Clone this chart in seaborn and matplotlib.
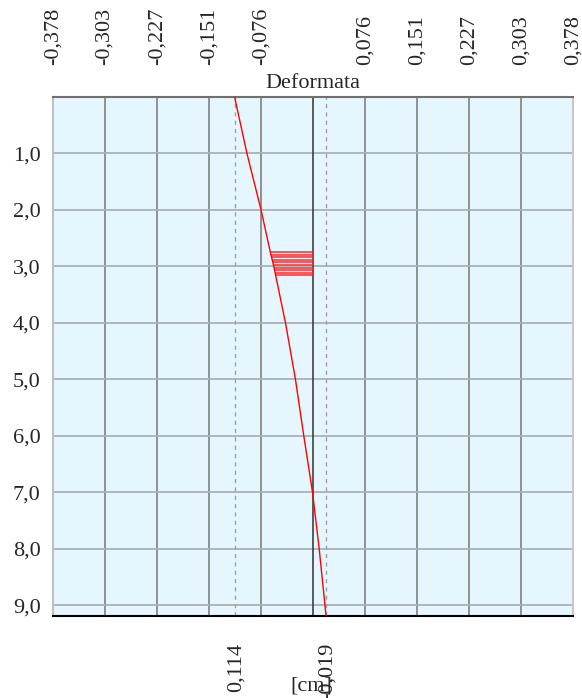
import numpy as np
import pandas as pd
import matplotlib
matplotlib.use("Agg")
import matplotlib.pyplot as plt
import seaborn as sns

# ---- data ----
depth = [0.0, 1.0, 2.0, 2.75, 3.0, 4.0, 5.0, 6.0, 7.0, 8.0, 9.19]
deform = [-0.114, -0.096, -0.0755, -0.062, -0.057, -0.040, -0.0255, -0.0134, -0.0007, 0.009, 0.019]
hatch_depths = [2.75, 2.795, 2.84, 2.885, 2.93, 2.975, 3.02, 3.065, 3.11, 3.15]
x_ticks = [-0.378, -0.303, -0.227, -0.151, -0.076, 0.076, 0.151, 0.227, 0.303, 0.378]
x_tick_labels = ["-0,378", "-0,303", "-0,227", "-0,151", "-0,076",
                 "0,076", "0,151", "0,227", "0,303", "0,378"]
y_ticks = [1, 2, 3, 4, 5, 6, 7, 8, 9]
y_tick_labels = ["1,0", "2,0", "3,0", "4,0", "5,0", "6,0", "7,0", "8,0", "9,0"]
marker_values = [-0.114, 0.019]
marker_labels = ["0,114", "-0,019"]
title = "Deformata"
unit = "[cm]"

sns.set_style("white")
plt.rcParams["font.family"] = ["Liberation Serif", "DejaVu Serif"]
FS = 16

W, H = 582, 698
fig = plt.figure(figsize=(W / 100, H / 100), dpi=100)
ax = fig.add_axes([53 / W, (H - 616) / H, 520 / W, 519 / H])
ax.set_facecolor("#E6F6FE")

ax.set_xlim(-0.378, 0.378)
ax.set_ylim(9.19, 0)

# grid
for xv in x_ticks:
    ax.axvline(xv, color="#808080", lw=1.2, zorder=1)
for yv in y_ticks:
    ax.axhline(yv, color="#A9B1B5", lw=1.3, zorder=1)
ax.axvline(0, color="#404040", lw=1.2, zorder=2)
for mv in marker_values:
    ax.axvline(mv, color="#A0A0A0", lw=1.0, ls=(0, (3, 3)), zorder=2)

# hatch
df = pd.DataFrame({"depth": depth, "deform": deform})
hx = np.interp(hatch_depths, depth, deform)
ax.hlines(hatch_depths, hx, 0, color="#FF2A2A", lw=1.1, zorder=3)

sns.lineplot(data=df, x="deform", y="depth", sort=False, estimator=None,
             color="#FF0000", lw=1.0, ax=ax, zorder=4)
ax.set_xlabel("")
ax.set_ylabel("")

# ticks
ax.xaxis.tick_top()
ax.set_xticks(x_ticks)
ax.set_xticklabels(x_tick_labels, rotation=90, fontsize=FS)
ax.tick_params(axis="x", length=0, pad=23)
ax.set_yticks(y_ticks)
ax.set_yticklabels(y_tick_labels, fontsize=FS)
ax.tick_params(axis="y", length=0, pad=9)

# spines
ax.spines["left"].set_color("#C0C0C0")
ax.spines["right"].set_color("#C8C8C8")
ax.spines["top"].set_color("#707070")
ax.spines["bottom"].set_color("#000000")
for s in ax.spines.values():
    s.set_linewidth(1.5)

fig.text(313 / W, 1 - 88 / H, title, ha="center", va="baseline", fontsize=FS)

for mv, ml in zip(marker_values, marker_labels):
    ax.annotate(ml, xy=(mv, 0), xycoords=("data", "axes fraction"),
                xytext=(1, -19), textcoords="offset points",
                rotation=90, ha="center", va="top", fontsize=FS)
fig.text(311 / W, 1 - 690 / H, unit, ha="center", va="baseline", fontsize=FS)

fig.savefig("out.png", dpi=100)
